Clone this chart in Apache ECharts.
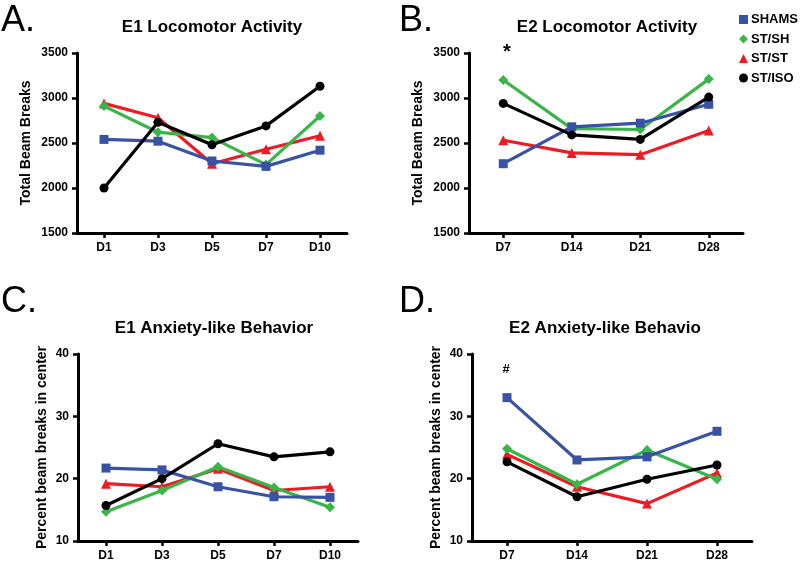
<!DOCTYPE html>
<html>
<head>
<meta charset="utf-8">
<script src="https://cdn.jsdelivr.net/npm/echarts@6/dist/echarts.min.js"></script>
<style>html,body{margin:0;padding:0;background:#fff}#c{width:800px;height:567px}</style>
</head>
<body>
<div id="c"></div>
<script>
const seriesNames = ['SHAMS', 'ST/SH', 'ST/ST', 'ST/ISO'];
const e1Days = ['D1', 'D3', 'D5', 'D7', 'D10'];
const e2Days = ['D7', 'D14', 'D21', 'D28'];

// Panel A: E1 Locomotor Activity (total beam breaks)
const e1LocoShams = [2540, 2520, 2300, 2240, 2420];
const e1LocoStSh  = [2910, 2620, 2560, 2260, 2800];
const e1LocoStSt  = [2940, 2780, 2270, 2430, 2580];
const e1LocoStIso = [2000, 2730, 2480, 2690, 3130];

// Panel B: E2 Locomotor Activity
const e2LocoShams = [2270, 2680, 2720, 2930];
const e2LocoStSh  = [3200, 2660, 2650, 3210];
const e2LocoStSt  = [2530, 2390, 2370, 2640];
const e2LocoStIso = [2940, 2590, 2540, 3010];

// Panel C: E1 Anxiety-like Behavior (percent beam breaks in center)
const e1AnxShams = [21.7, 21.4, 18.7, 17.1, 17.0];
const e1AnxStSh  = [14.7, 18.1, 21.9, 18.6, 15.4];
const e1AnxStSt  = [19.2, 18.7, 21.6, 18.1, 18.7];
const e1AnxStIso = [15.7, 20.0, 25.6, 23.5, 24.3];

// Panel D: E2 Anxiety-like Behavior
const e2AnxShams = [33.0, 23.0, 23.5, 27.6];
const e2AnxStSh  = [24.8, 19.1, 24.6, 19.9];
const e2AnxStSt  = [23.9, 18.7, 16.0, 20.9];
const e2AnxStIso = [22.7, 17.1, 19.9, 22.2];

const locoTicks = [1500, 3500, 500]; // min, max, interval
const anxTicks = [10, 40, 10];

const colors = {'SHAMS': '#3953a4', 'ST/SH': '#3ab54a', 'ST/ST': '#ed1c24', 'ST/ISO': '#000000'};
const symbols = {'SHAMS': 'rect', 'ST/SH': 'diamond', 'ST/ST': 'triangle', 'ST/ISO': 'circle'};
const symSizes = {'SHAMS': 9, 'ST/SH': 10, 'ST/ST': 10, 'ST/ISO': 9};
const zOrder = {'SHAMS': 5, 'ST/SH': 4, 'ST/ST': 3, 'ST/ISO': 6};

const FONT = 'Liberation Sans, Arial, sans-serif';

const panels = [
  {grid: {left: 77, top: 53, width: 270, height: 180}, cats: e1Days, ticks: locoTicks, name: 'Total Beam Breaks', nameGap: 44,
   data: [e1LocoShams, e1LocoStSh, e1LocoStSt, e1LocoStIso]},
  {grid: {left: 469, top: 53, width: 274, height: 180}, cats: e2Days, ticks: locoTicks, name: 'Total Beam Breaks', nameGap: 44,
   data: [e2LocoShams, e2LocoStSh, e2LocoStSt, e2LocoStIso]},
  {grid: {left: 78, top: 354, width: 280, height: 187}, cats: e1Days, ticks: anxTicks, name: 'Percent beam breaks in center', nameGap: 29,
   data: [e1AnxShams, e1AnxStSh, e1AnxStSt, e1AnxStIso]},
  {grid: {left: 472, top: 354, width: 280, height: 187}, cats: e2Days, ticks: anxTicks, name: 'Percent beam breaks in center', nameGap: 29,
   data: [e2AnxShams, e2AnxStSh, e2AnxStSt, e2AnxStIso]}
];

const axisLine = {show: true, lineStyle: {color: '#000', width: 3}};
const axisTick = {show: true, length: 5, lineStyle: {color: '#000', width: 2.5}};
const labelStyle = {color: '#000', fontFamily: FONT, fontWeight: 'bold', fontSize: 12};

const grids = [], xAxes = [], yAxes = [], series = [];
panels.forEach((p, i) => {
  grids.push(Object.assign({containLabel: false}, p.grid));
  xAxes.push({type: 'category', gridIndex: i, data: p.cats, boundaryGap: true,
    axisLine: axisLine, axisTick: Object.assign({alignWithLabel: true}, axisTick),
    axisLabel: Object.assign({margin: 9}, labelStyle), splitLine: {show: false}});
  yAxes.push({type: 'value', gridIndex: i, min: p.ticks[0], max: p.ticks[1], interval: p.ticks[2],
    axisLine: axisLine, axisTick: axisTick,
    axisLabel: Object.assign({margin: 9, formatter: v => String(v)}, labelStyle),
    splitLine: {show: false},
    name: p.name, nameLocation: 'middle', nameGap: p.nameGap,
    nameTextStyle: {color: '#000', fontFamily: FONT, fontWeight: 'bold', fontSize: 14}});
  seriesNames.forEach((s, k) => {
    series.push({type: 'line', name: s, xAxisIndex: i, yAxisIndex: i, data: p.data[k],
      symbol: symbols[s], symbolSize: symSizes[s], z: zOrder[s],
      lineStyle: {color: colors[s], width: 3.2}, itemStyle: {color: colors[s]},
      emphasis: {disabled: true}, animation: false});
  });
});

const titleStyle = (x, y, text) => ({type: 'text', x: x, y: y,
  style: {text: text, fill: '#000', font: 'bold 17px ' + FONT, textAlign: 'center', textVerticalAlign: 'middle'}});
const letterStyle = (x, y, text) => ({type: 'text', x: x, y: y,
  style: {text: text, fill: '#000', font: '36px ' + FONT, textAlign: 'left', textVerticalAlign: 'middle'}});

const chart = echarts.init(document.getElementById('c'), null, {renderer: 'canvas'});
chart.setOption({
  backgroundColor: '#fff',
  animation: false,
  grid: grids,
  xAxis: xAxes,
  yAxis: yAxes,
  series: series,
  legend: {data: seriesNames.map(n => ({name: n, icon: symbols[n]})), orient: 'vertical', left: 734, top: 8,
    itemWidth: 9, itemHeight: 9, itemGap: 6.5, selectedMode: false,
    textStyle: {color: '#000', fontFamily: FONT, fontWeight: 'bold', fontSize: 13, padding: [0, 0, 0, -2]}},
  graphic: [
    letterStyle(1, 21, 'A.'), letterStyle(399, 21, 'B.'), letterStyle(1, 302, 'C.'), letterStyle(399, 302, 'D.'),
    titleStyle(212, 27, 'E1 Locomotor Activity'), titleStyle(607, 27, 'E2 Locomotor Activity'),
    titleStyle(214, 328, 'E1 Anxiety-like Behavior'), titleStyle(605, 328, 'E2 Anxiety-like Behavio'),
    {type: 'text', x: 507, y: 52, style: {text: '*', fill: '#000', font: 'bold 20px ' + FONT, textAlign: 'center', textVerticalAlign: 'middle'}},
    {type: 'text', x: 506, y: 369, style: {text: '#', fill: '#000', font: 'bold 13px ' + FONT, textAlign: 'center', textVerticalAlign: 'middle'}}
  ]
});
</script>
</body>
</html>
